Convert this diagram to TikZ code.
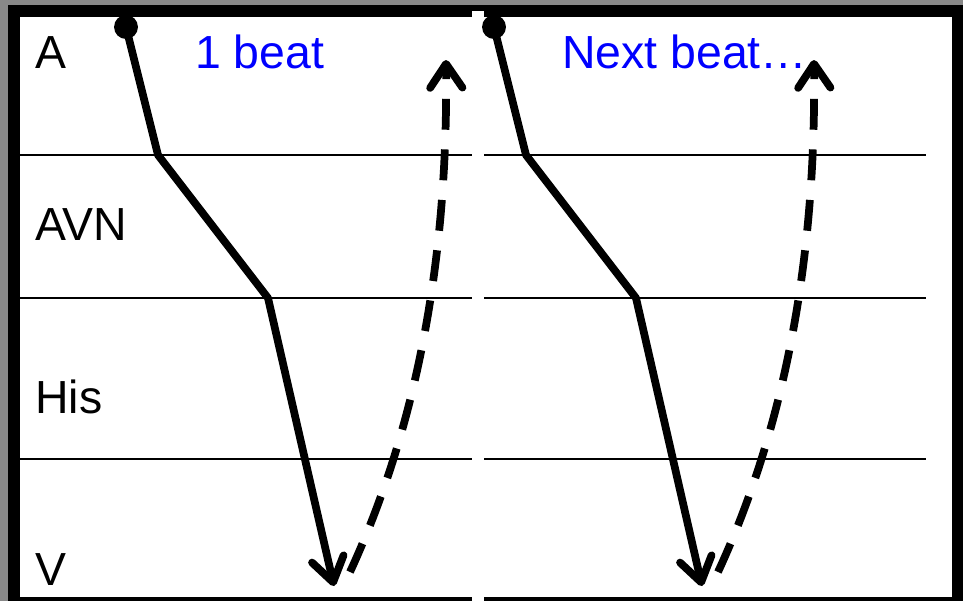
\documentclass[tikz,border=0pt]{standalone}
\usepackage{fontspec}
\setmainfont{Liberation Sans}
\usetikzlibrary{arrows.meta}
\definecolor{slidegray}{RGB}{136,136,136}
\begin{document}
\begin{tikzpicture}[x=0.025cm,y=-0.025cm,
    lbl/.style={anchor=base west,inner sep=0pt,font=\fontsize{33}{40}\selectfont},
    beatlbl/.style={lbl,text=blue},
    sep/.style={line width=1.8pt},
    cond/.style={line width=5.5pt,line join=round,-{Straight Barb[length=17pt,width=23pt,round]}},
    back/.style={cond,dash pattern=on 22pt off 14pt}]
  % frame
  \fill [slidegray] (0,0) rectangle (963,601);
  \fill [black] (8,5) rectangle (963,601);
  \fill [white] (20,17) rectangle (952,597);
  \fill [white] (472,11) rectangle (484,601);
  % rows
  \draw [sep] (20,155) -- (472,155);
  \draw [sep] (20,298) -- (472,298);
  \draw [sep] (20,459) -- (472,459);
  \draw [sep] (484,155) -- (926,155);
  \draw [sep] (484,298) -- (926,298);
  \draw [sep] (484,459) -- (926,459);
  \node [lbl] (A) at (35,68) {A};
  \node [lbl] (AVN) at (35,240) {AVN};
  \node [lbl] (His) at (35,413) {His};
  \node [lbl] (V) at (35,585) {V};
  \node [beatlbl] (beat1) at (195,68) {1 beat};
  \node [beatlbl] (beat2) at (562,68) {Next beat\dots};
  % conduction, one per beat
  \foreach \dx/\b in {0/l,368/r} {
    \coordinate (\b sa) at (126+\dx,27);
    \coordinate (\b av) at (158+\dx,155);
    \coordinate (\b his) at (268+\dx,298);
    \coordinate (\b v) at (334+\dx,586);
    \coordinate (\b ret) at (350+\dx,572);
    \coordinate (\b top) at (446+\dx,60);
    \fill (\b sa) circle (8.5pt);
    \draw [cond] (\b sa) -- (\b av) -- (\b his) -- (\b v);
    \draw [back] (\b ret) .. controls (420+\dx,420) and (448+\dx,250) .. (\b top);
  }
\end{tikzpicture}
\end{document}
